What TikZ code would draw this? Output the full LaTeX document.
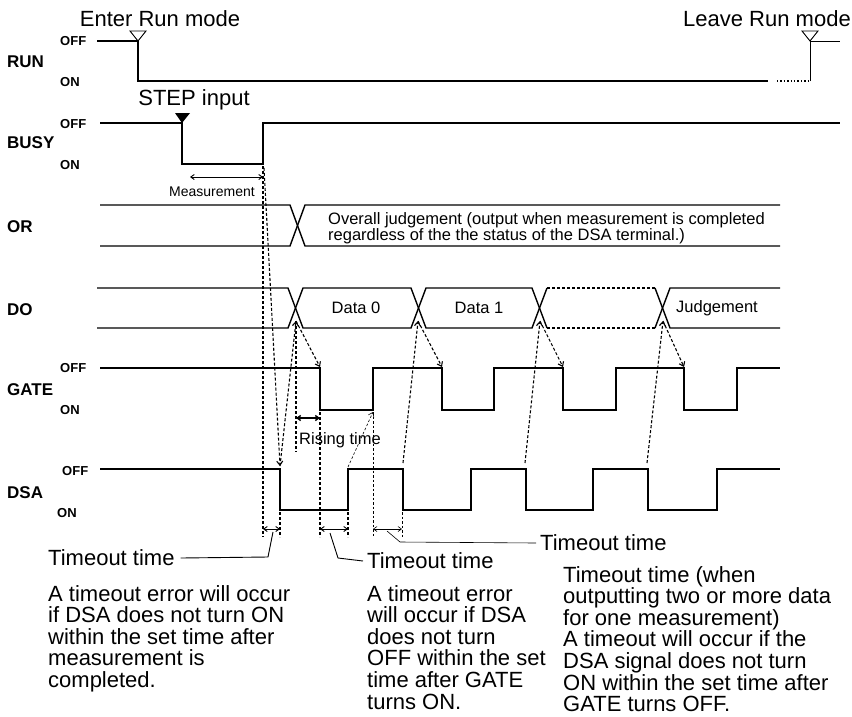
\documentclass[tikz,border=0pt]{standalone}
\usepackage{fontspec}
\setmainfont{Liberation Sans}
\usetikzlibrary{arrows.meta}
\begin{document}
\begin{tikzpicture}[x=1pt, y=-1pt,
        sig/.style={line width=1.4pt},
        lvl/.style={anchor=west, inner sep=0pt, font=\bfseries\fontsize{13}{14}\selectfont},
        signame/.style={anchor=west, inner sep=0pt, font=\bfseries\fontsize{17}{18}\selectfont},
        big/.style={inner sep=0pt, align=left, font=\fontsize{22}{21.6}\selectfont},
        small/.style={inner sep=0pt, align=left, font=\fontsize{16.5}{15}\selectfont},
        dsh/.style={line width=1.1pt, dash pattern=on 3pt off 2pt},
        thindsh/.style={line width=0.6pt, dash pattern=on 2.5pt off 2pt},
        tip/.style={-{Straight Barb[length=4pt,width=6pt]}},
        gap/.style={{Straight Barb[length=3.5pt,width=5pt]}-{Straight Barb[length=3.5pt,width=5pt]}, line width=0.9pt}
    ]
    \useasboundingbox (0,0) rectangle (852,716);

    % signal names and levels
    \node[signame] (run) at (7,62) {RUN};
    \node[signame] (busy) at (7,143) {BUSY};
    \node[signame] (or) at (7,227) {OR};
    \node[signame] (do) at (7,310) {DO};
    \node[signame] (gate) at (7,390) {GATE};
    \node[signame] (dsa) at (7,493) {DSA};
    \node[lvl] (runoff) at (60,41) {OFF};
    \node[lvl] (runon) at (60,82) {ON};
    \node[lvl] (busyoff) at (60,124) {OFF};
    \node[lvl] (busyon) at (60,165) {ON};
    \node[lvl] (gateoff) at (60,368) {OFF};
    \node[lvl] (gateon) at (60,410) {ON};
    \node[lvl] (dsaoff) at (62,471) {OFF};
    \node[lvl] (dsaon) at (57,513) {ON};

    % RUN
    \draw[sig] (97,41) -- (138,41) -- (138,81) -- (768,81);
    \draw[sig, dotted] (777,81) -- (810,81);
    \draw[line width=1pt] (810,81) -- (810,41) -- (840,41);
    \draw[line width=0.9pt] (130,31) -- (146,31) -- (138,41) -- cycle;
    \draw[line width=0.9pt] (802,31) -- (818,31) -- (810,41) -- cycle;
    \node[big] (enter) at (160,19) {Enter Run mode};
    \node[big] (leave) at (767,19) {Leave Run mode};

    % BUSY
    \draw[sig] (100,123) -- (182,123) -- (182,164) -- (263,164) -- (263,123) -- (840,123);
    \fill (175,113) -- (190,113) -- (182,123) -- cycle;
    \node[big] (step) at (194,100) {STEP input};
    \draw[gap] (190,177) -- (263,177);
    \node[inner sep=0pt, font=\fontsize{14}{15}\selectfont] (meas) at (212,192) {Measurement};

    % OR
    \draw[sig] (100,205) -- (290,205) -- (305,246) -- (780,246);
    \draw[sig] (100,246) -- (290,246) -- (305,205) -- (780,205);
    \node[small, anchor=north west] (overall) at (328,212) {Overall judgement (output when measurement is completed\\regardless of the the status of the DSA terminal.)};

    % DO
    \draw[sig] (97,288) -- (288,288) -- (303,328) -- (411,328) -- (426,288) -- (532,288) -- (547,328);
    \draw[sig] (97,328) -- (288,328) -- (303,288) -- (411,288) -- (426,328) -- (532,328) -- (547,288);
    \draw[sig, dash pattern=on 3pt off 2pt] (547,288) -- (655,288);
    \draw[sig, dash pattern=on 3pt off 2pt] (547,328) -- (655,328);
    \draw[sig] (655,288) -- (670,328) -- (780,328);
    \draw[sig] (655,328) -- (670,288) -- (780,288);
    \node[small] (data0) at (356,308) {Data 0};
    \node[small] (data1) at (479,308) {Data 1};
    \node[small] (judge) at (717,308) {Judgement};

    % GATE
    \draw[sig] (100,368) -- (320,368) -- (320,410) -- (373,410) -- (373,368) -- (442,368) -- (442,410) -- (494,410) -- (494,368)
        -- (563,368) -- (563,410) -- (616,410) -- (616,368) -- (684,368) -- (684,410) -- (737,410) -- (737,368) -- (780,368);

    % DSA
    \draw[sig] (100,469) -- (280,469) -- (280,510) -- (348,510) -- (348,469) -- (403,469) -- (403,510) -- (471,510) -- (471,469)
        -- (526,469) -- (526,510) -- (593,510) -- (593,469) -- (648,469) -- (648,510) -- (717,510) -- (717,469) -- (780,469);

    % handshake points
    \coordinate (mend) at (264,168);
    \coordinate (dsa1) at (280,466);
    \coordinate (x1) at (296,321);
    \coordinate (x2) at (418,321);
    \coordinate (x3) at (540,321);
    \coordinate (x4) at (663,321);
    \coordinate (g1) at (320,367);
    \coordinate (g2) at (442,367);
    \coordinate (g3) at (563,367);
    \coordinate (g4) at (684,367);
    \coordinate (d2) at (403,463);
    \coordinate (d3) at (525,463);
    \coordinate (d4) at (647,463);
    \coordinate (dup) at (348,467);
    \coordinate (gup) at (373,412);

    \draw[dsh] (263,166) -- (263,537);
    \draw[dsh, tip] (mend) -- (dsa1);
    \draw[dsh, tip] (dsa1) -- (x1);
    \draw[dsh, tip] (x1) -- (g1);
    \draw[dsh] (x1) -- (296,452);
    \draw[dsh, tip] (d2) -- (x2);
    \draw[dsh, tip] (x2) -- (g2);
    \draw[dsh, tip] (d3) -- (x3);
    \draw[dsh, tip] (x3) -- (g3);
    \draw[dsh, tip] (d4) -- (x4);
    \draw[dsh, tip] (x4) -- (g4);
    \draw[thindsh, tip] (dup) -- (gup);
    \draw[dsh] (320,412) -- (320,537);
    \draw[thindsh] (373,412) -- (373,537);
    \draw[dsh] (280,512) -- (280,537);
    \draw[dsh] (348,512) -- (348,537);
    \draw[thindsh] (402,512) -- (402,537);

    % rising and timeout spans
    \draw[gap, line width=1.4pt] (296,418) -- (320,418);
    \node[small] (rising) at (340,440) {Rising time};
    \draw[gap] (263,529) -- (280,529);
    \draw[gap] (320,529) -- (348,529);
    \draw[gap, line width=0.6pt] (373,529) -- (402,529);

    % leaders and notes
    \node[big, anchor=west] (to1) at (48,558) {Timeout time};
    \node[big, anchor=west] (to2) at (367,561) {Timeout time};
    \node[big, anchor=west] (to3) at (540,543) {Timeout time};
    \draw[line width=0.9pt] (273,532) -- (268,557) -- ([xshift=6pt]to1.east);
    \draw[line width=0.9pt] (330,533) -- (338,558) -- ([xshift=-4pt]to2.west);
    \draw[line width=0.6pt] (387,531) -- (400,542) -- ([xshift=-4pt]to3.west);

    \node[big, anchor=north west] (note1) at (48,585) {A timeout error will occur\\if DSA does not turn ON\\within the set time after\\measurement is\\completed.};
    \node[big, anchor=north west] (note2) at (367,585) {A timeout error\\will occur if DSA\\does not turn\\OFF within the set\\time after GATE\\turns ON.};
    \node[big, anchor=north west] (note3) at (563,566) {Timeout time (when\\outputting two or more data\\for one measurement)\\A timeout will occur if the\\DSA signal does not turn\\ON within the set time after\\GATE turns OFF.};
\end{tikzpicture}
\end{document}
